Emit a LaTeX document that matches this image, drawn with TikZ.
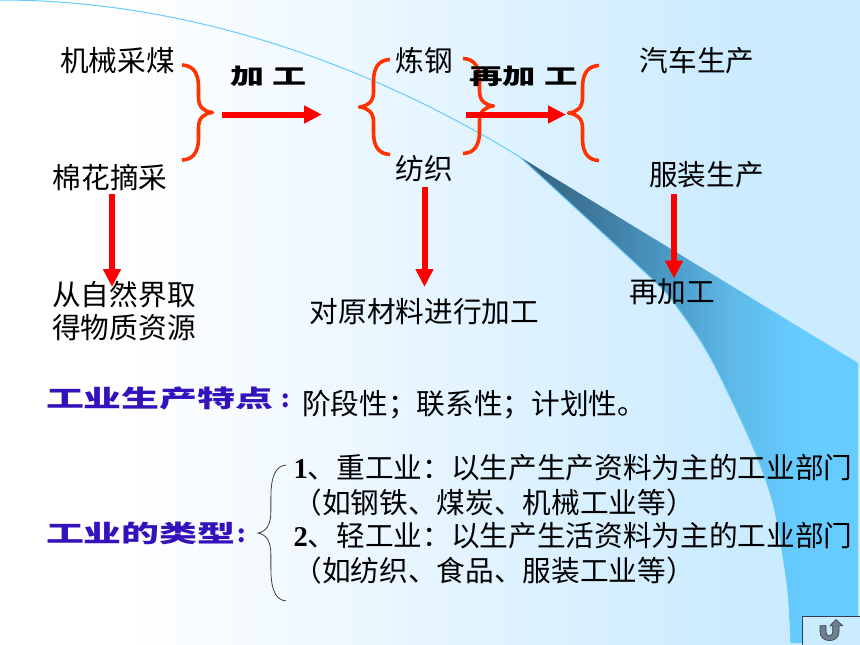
\documentclass[tikz,border=0pt]{standalone}
\usepackage{fontspec}
\setmainfont{Noto Sans CJK SC}
\newfontfamily\latinbold{Liberation Serif}
\usetikzlibrary{arrows.meta}
\definecolor{bgright}{HTML}{CBEBFF}
\definecolor{bgmid}{HTML}{E6F5FF}
\definecolor{foldA}{HTML}{36607A}
\definecolor{foldB}{HTML}{3F7EA5}
\definecolor{foldC}{HTML}{4E9FCC}
\definecolor{foldD}{HTML}{5EB8E6}
\definecolor{foldE}{HTML}{66CCFF}
\definecolor{bracered}{HTML}{FF3300}
\definecolor{headblue}{HTML}{3311BB}
\definecolor{iconfill}{HTML}{6F7F8F}
\definecolor{iconline}{HTML}{333F4F}
\pgfdeclarehorizontalshading{slidebg}{100bp}{color(0bp)=(white); color(32bp)=(white); color(50bp)=(bgmid); color(68bp)=(bgright); color(100bp)=(bgright)}
\pgfdeclarehorizontalshading{foldsh}{100bp}{color(0bp)=(foldA); color(25bp)=(foldA); color(38bp)=(foldB); color(48.5bp)=(foldC); color(56bp)=(foldD); color(66bp)=(foldE); color(100bp)=(foldE)}
\newcommand\curlypath{(-30.5,-47.5) .. controls (-22,-47) and (-14,-43) .. (-14,-25) -- (-14,-15) .. controls (-14,-5) and (-8,-0.8) .. (0,0) .. controls (-8,0.8) and (-14,5) .. (-14,15) -- (-14,25) .. controls (-14,43) and (-22,47) .. (-30.5,47.5)}
\tikzset{
  x=1pt,y=-1pt,
  lbl/.style={inner sep=0pt,outer sep=0pt,text=black,font=\fontsize{28.67}{33}\selectfont,text height=26pt,text depth=4pt},
  blockarrow/.style={draw=red,line width=6pt,-{Triangle[width=17pt,length=18pt]}},
  redbrace/.style={draw=bracered,line width=3.6pt,line join=round},
  thinbrace/.style={draw=black!75,line width=0.8pt},
  head/.style={inner sep=0pt,outer sep=0pt,text=headblue,font=\fontsize{24}{28}\selectfont\bfseries},
  stage/.style={inner sep=0pt,outer sep=0pt,text=black,font=\fontsize{22}{26}\selectfont\bfseries},
}
\begin{document}
\begin{tikzpicture}
\useasboundingbox (0,0) rectangle (860,645);
\shade[shading=slidebg] (0,0) rectangle (860,645);
% page curl
\shade[shading=foldsh] (520,157) -- (858,363) -- (858,643) -- (791,643)
  -- plot[smooth] coordinates {(791,643) (787,583) (773,503) (750,440) (710,357) (677,307) (650,277) (520,157)} -- cycle;
\draw[foldE,line width=1pt] (0,0) .. controls (190,0) and (370,65) .. (520,157);
\draw[foldE,line width=1pt] plot[smooth] coordinates {(520,157) (650,277) (677,307) (710,357) (750,440) (773,503) (787,583) (791,643)};
% return button
\draw[iconline,fill=bgright,line width=1pt] (802,616) rectangle (861,646);
\draw[iconline,fill=iconfill,line width=.6pt] (820,625.7) -- (826,625.7) -- (826,632) .. controls (826,637) and (832.7,637) .. (832.7,632) -- (832.7,625.7) -- (830,625.7) -- (836,619.5) -- (842.7,625.7) -- (839,625.7) -- (839,632) .. controls (839,643.5) and (820,643.5) .. (820,632) -- cycle;
% braces
\draw[redbrace,shift={(212.5,112.5)}] \curlypath;
\draw[redbrace,shift={(359.5,107)},xscale=-1] \curlypath;
\draw[redbrace,shift={(493.5,106)}] \curlypath;
\draw[redbrace,shift={(568.5,113)},xscale=-1] \curlypath;
\draw[thinbrace,shift={(258,533)},xscale=-.92,yscale=1.43] \curlypath;
% labels
\node[lbl] (coal) at (117.5,60) {机械采煤};
\node[lbl] (cotton) at (110,177) {棉花摘采};
\node[lbl] (steel) at (424.5,60) {炼钢};
\node[lbl] (textile) at (424.5,168) {纺织};
\node[lbl] (car) at (697,60) {汽车生产};
\node[lbl] (clothes) at (706.5,174) {服装生产};
\node[lbl,anchor=north] (nature1) at (124,279.5) {从自然界取};
\node[lbl,anchor=north] (nature2) at (124,312.5) {得物质资源};
\node[lbl] (rawproc) at (424.5,311) {对原材料进行加工};
\node[lbl] (reproc) at (672,291) {再加工};
\node[stage,anchor=center] (jg) at (269,76) {\scalebox{1.55}[1]{加 工}};
\node[stage,anchor=center] (zjg) at (523.5,76) {\scalebox{1.52}[1]{再加 工}};
\node[head,anchor=west] (feat) at (46,398) {\scalebox{1.58}[1]{工业生产特点}\hspace{8pt}:};
\node[lbl,anchor=west] (featv) at (302,403) {阶段性；联系性；计划性。};
\node[head,anchor=west] (kind) at (46,533) {\scalebox{1.58}[1]{工业的类型}\hspace{2pt}:};
\node[lbl,anchor=west] (l1) at (293.5,467) {{\latinbold\bfseries 1}、重工业：以生产生产资料为主的工业部门};
\node[lbl,anchor=west] (l2) at (293.5,502) {（如钢铁、煤炭、机械工业等）};
\node[lbl,anchor=west] (l3) at (293.5,535) {{\latinbold\bfseries 2}、轻工业：以生产生活资料为主的工业部门};
\node[lbl,anchor=west] (l4) at (293.5,570) {（如纺织、食品、服装工业等）};
% connectors
\coordinate (a1s) at (222,114.5);
\coordinate (a1e) at (322,114.5);
\coordinate (a2s) at (466,114.5);
\coordinate (a2e) at (566,114.5);
\draw[blockarrow] (a1s) -- (a1e);
\draw[blockarrow] (a2s) -- (a2e);
\draw[blockarrow,shorten <=2pt,shorten >=-7.5pt] ([xshift=2pt]cotton.south) -- ([xshift=2pt]cotton.south |- nature1.north);
\draw[blockarrow,shorten <=4pt,shorten >=9pt] (textile.south) -- (rawproc.north);
\draw[blockarrow,shorten <=5pt,shorten >=-2.5pt] ([xshift=-32.5pt]clothes.south) -- ([xshift=-32.5pt]clothes.south |- reproc.north);
\end{tikzpicture}
\end{document}
